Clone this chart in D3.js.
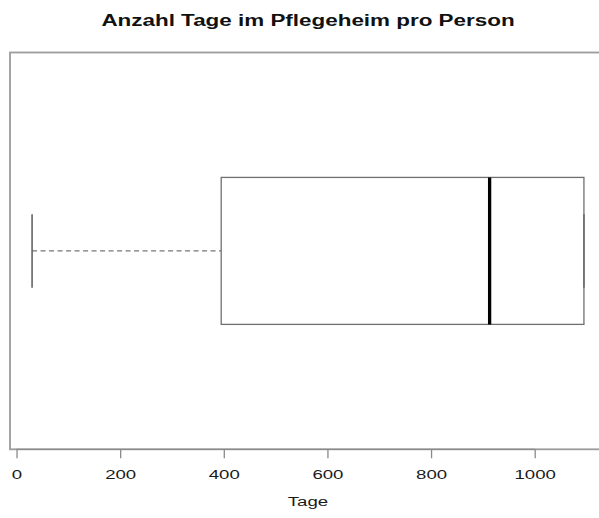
<!DOCTYPE html>
<html>
<head>
<meta charset="utf-8">
<script src="https://cdn.jsdelivr.net/npm/d3@7"></script>
<style>
  html, body { margin: 0; padding: 0; background: #fff; }
  svg { display: block; }
  text { font-family: "Liberation Sans", Arial, Helvetica, sans-serif; }
</style>
</head>
<body>
<svg id="chart" width="599" height="518"></svg>
<script>
// Five-number summary of days spent in the nursing home per person
const statNames = ["untererWhisker", "q1", "median", "q3", "obererWhisker"];
const statValues = [30, 395, 913, 1095, 1095];
const tickValues = [0, 200, 400, 600, 800, 1000];
const titleText = "Anzahl Tage im Pflegeheim pro Person";
const xLabel = "Tage";

const stats = Object.fromEntries(statNames.map((n, i) => [n, statValues[i]]));

const plot = { left: 10, right: 606, top: 52.5, bottom: 449.3 };
const sx = 1.32;      // horizontal stretch of title glyphs
const sxTick = 1.38;  // horizontal stretch of axis glyphs

const svg = d3.select("#chart");

// Axis range: data range padded by 4% on each side
const lo = d3.min(statValues), hi = d3.max(statValues);
const pad = (hi - lo) * 0.04;
const x = d3.scaleLinear().domain([lo - pad, hi + pad]).range([plot.left, plot.right]);
const y = d3.scaleLinear().domain([0.46, 1.54]).range([plot.bottom, plot.top]);

const boxHalf = 0.2, stapleHalf = 0.1, pos = 1;

// Whisker (dashed) from lower whisker to box
svg.append("line")
  .attr("x1", x(stats.untererWhisker)).attr("x2", x(stats.q1))
  .attr("y1", y(pos)).attr("y2", y(pos))
  .attr("stroke", "#777").attr("stroke-width", 1.3)
  .attr("stroke-dasharray", "5,3.5");

// Staples
[stats.untererWhisker, stats.obererWhisker].forEach(v => {
  svg.append("line")
    .attr("x1", x(v)).attr("x2", x(v))
    .attr("y1", y(pos - stapleHalf)).attr("y2", y(pos + stapleHalf))
    .attr("stroke", "#5a5a5a").attr("stroke-width", 1.5);
});

// Box
svg.append("rect")
  .attr("x", x(stats.q1)).attr("y", y(pos + boxHalf))
  .attr("width", x(stats.q3) - x(stats.q1))
  .attr("height", y(pos - boxHalf) - y(pos + boxHalf))
  .attr("fill", "none").attr("stroke", "#707070").attr("stroke-width", 1.3);

// Median
svg.append("line")
  .attr("x1", x(stats.median)).attr("x2", x(stats.median))
  .attr("y1", y(pos + boxHalf)).attr("y2", y(pos - boxHalf))
  .attr("stroke", "#000").attr("stroke-width", 3.3);

// Plot frame
svg.append("rect")
  .attr("x", plot.left).attr("y", plot.top)
  .attr("width", plot.right - plot.left).attr("height", plot.bottom - plot.top)
  .attr("fill", "none").attr("stroke", "#9c9c9c").attr("stroke-width", 1.8);

// Bottom axis
const axis = svg.append("g")
  .attr("transform", `translate(0,${plot.bottom})`)
  .call(d3.axisBottom(x).tickValues(tickValues).tickSize(9).tickFormat(d3.format("d")));
axis.select(".domain")
  .attr("d", `M${x(tickValues[0])},0H${x(tickValues[tickValues.length - 1])}`)
  .attr("stroke", "#8a8a8a").attr("stroke-width", 1.3);
axis.selectAll(".tick line").attr("stroke", "#8a8a8a").attr("stroke-width", 1.3);
axis.selectAll(".tick text")
  .attr("dy", null).attr("y", 29.7)
  .attr("font-size", 13.5)
  .attr("fill", "#1a1a1a")
  .attr("transform", `scale(${sxTick},1)`);

const cx = (plot.left + plot.right) / 2;

// Axis title
svg.append("text")
  .attr("transform", `translate(${cx},506) scale(${sxTick},1)`)
  .attr("text-anchor", "middle")
  .attr("font-size", 13.5).attr("fill", "#1a1a1a")
  .text(xLabel);

// Chart title
svg.append("text")
  .attr("transform", `translate(${cx},26) scale(${sx},1)`)
  .attr("text-anchor", "middle")
  .attr("font-size", 17).attr("font-weight", "bold").attr("fill", "#111")
  .text(titleText);
</script>
</body>
</html>
